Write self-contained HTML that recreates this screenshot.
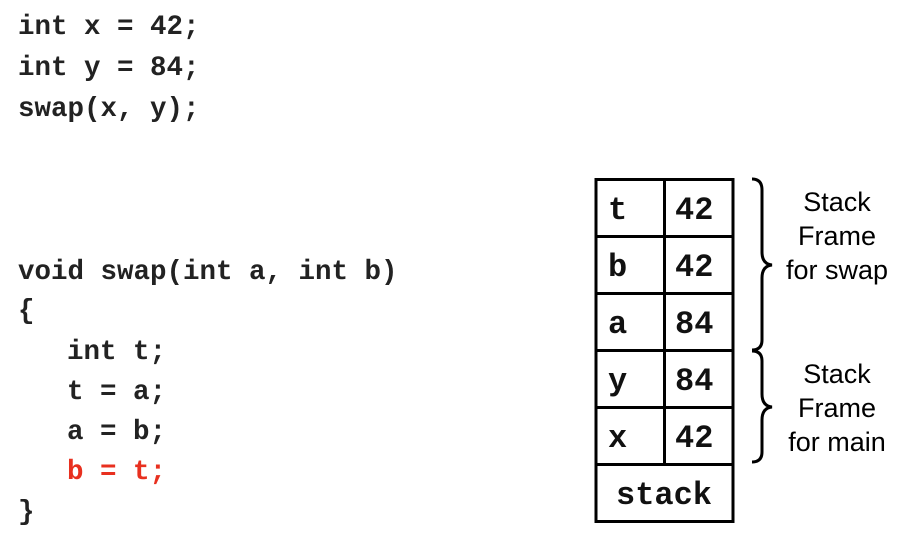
<!DOCTYPE html>
<html><head><style>
html,body{margin:0;padding:0;background:#fff;width:918px;height:544px;overflow:hidden}
</style></head><body>
<svg width="918" height="544" xmlns="http://www.w3.org/2000/svg">
<g font-family="'Liberation Mono', monospace" font-weight="bold" font-size="27.5" fill="#222">
<text x="18" y="34">int x = 42;</text>
<text x="18" y="75">int y = 84;</text>
<text x="18" y="116">swap(x, y);</text>
<text x="18" y="279">void swap(int a, int b)</text>
<text x="18" y="318">{</text>
<text x="67" y="359">int t;</text>
<text x="67" y="399">t = a;</text>
<text x="67" y="439">a = b;</text>
<text x="67" y="479" fill="#e8301f">b = t;</text>
<text x="18" y="519">}</text>
</g>
<g stroke="#000" stroke-width="3" fill="none">
<rect x="596" y="179.5" width="137" height="342"/>
<line x1="664.5" y1="179.5" x2="664.5" y2="464"/>
<line x1="596" y1="236.5" x2="733" y2="236.5"/>
<line x1="596" y1="293.5" x2="733" y2="293.5"/>
<line x1="596" y1="350.5" x2="733" y2="350.5"/>
<line x1="596" y1="407.5" x2="733" y2="407.5"/>
<line x1="596" y1="464.5" x2="733" y2="464.5"/>
</g>
<g font-family="'Liberation Mono', monospace" font-weight="bold" font-size="32" fill="#111">
<text x="608" y="219">t</text><text x="675" y="219">42</text>
<text x="608" y="276">b</text><text x="675" y="276">42</text>
<text x="608" y="333">a</text><text x="675" y="333">84</text>
<text x="608" y="390">y</text><text x="675" y="390">84</text>
<text x="608" y="447">x</text><text x="675" y="447">42</text>
<text x="664" y="504" text-anchor="middle">stack</text>
</g>
<g stroke="#000" stroke-width="3" fill="none">
<path d="M752 179 Q762 179 762 190 L762 252 Q762 264 772 265 Q762 266 762 278 L762 340 Q762 350 752 350"/>
<path d="M752 351 Q762 351 762 361 L762 394 Q762 406 772 407 Q762 408 762 420 L762 452 Q762 462 752 462"/>
</g>
<g font-family="'Liberation Sans', Arial, sans-serif" font-size="27" fill="#000" text-anchor="middle">
<text x="837" y="211">Stack</text>
<text x="837" y="245">Frame</text>
<text x="837" y="279">for swap</text>
<text x="837" y="383">Stack</text>
<text x="837" y="417">Frame</text>
<text x="837" y="451">for main</text>
</g>
</svg>
</body></html>
